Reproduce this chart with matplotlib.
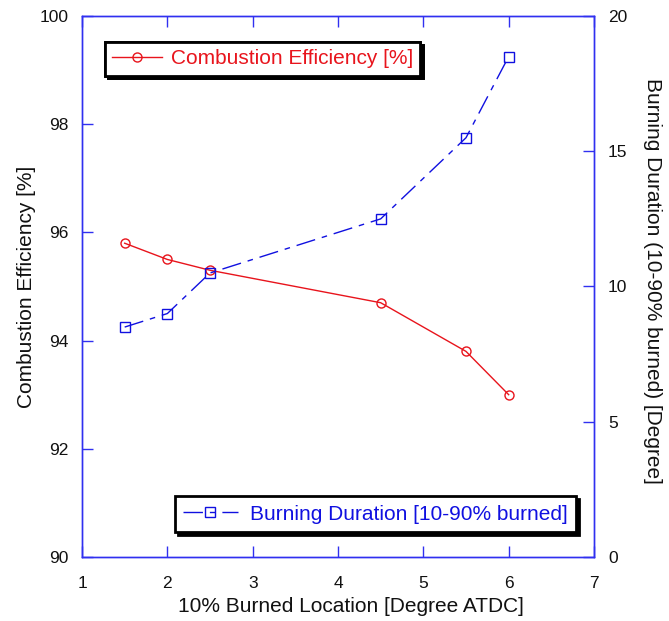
import matplotlib
matplotlib.use("Agg")
import matplotlib.pyplot as plt

plt.rcParams['font.family'] = ['Liberation Sans', 'DejaVu Sans']

# 10% burned location [deg ATDC]
location = [1.5, 2.0, 2.5, 4.5, 5.5, 6.0]
# Combustion efficiency [%]
efficiency = [95.8, 95.5, 95.3, 94.7, 93.8, 93.0]
# Burning duration, 10-90% burned [deg]
duration = [8.5, 9.0, 10.5, 12.5, 15.5, 18.5]

x_ticks = [1, 2, 3, 4, 5, 6, 7]
left_ticks = [90, 92, 94, 96, 98, 100]
right_ticks = [0, 5, 10, 15, 20]

red = '#e8141c'
blue = '#1010e0'
axis_blue = '#3030f0'

fig = plt.figure(figsize=(6.69, 6.21), dpi=100)
ax = fig.add_axes([0.1226, 0.1031, 0.7653, 0.8711])
ax2 = ax.twinx()

l1, = ax.plot(location, efficiency, color=red, lw=1.0, marker='o',
              markersize=6.5, markerfacecolor='none', markeredgecolor=red,
              markeredgewidth=1.0, label='Combustion Efficiency [%]')
l2, = ax2.plot(location, duration, color=blue, lw=1.0, marker='s',
               markersize=7, markerfacecolor='none', markeredgecolor=blue,
               markeredgewidth=1.0, dashes=[14, 5, 4, 5],
               label='Burning Duration [10-90% burned]')

ax.set_xlim(1, 7)
ax.set_ylim(90, 100)
ax2.set_ylim(0, 20)
ax.set_xticks(x_ticks)
ax.set_yticks(left_ticks)
ax2.set_yticks(right_ticks)

for a in (ax, ax2):
    for s in a.spines.values():
        s.set_color(axis_blue)
        s.set_linewidth(1.0)

ax.tick_params(axis='both', direction='in', length=8, width=1.0,
               color=axis_blue, labelsize=12.5, labelcolor='#111111',
               top=True)
ax.tick_params(axis='x', pad=14)
ax.tick_params(axis='y', pad=10)
ax2.tick_params(axis='y', direction='in', length=8, width=1.0,
                color=axis_blue, labelsize=12.5, labelcolor='#111111', pad=10)

ax.set_xlabel('10% Burned Location [Degree ATDC]', fontsize=15, color='#111111',
              labelpad=4, x=0.525, ha='center')
ax.set_ylabel('Combustion Efficiency [%]', fontsize=15, color='#111111',
              labelpad=2)
ax2.set_ylabel('Burning Duration (10-90% burned) [Degree]', fontsize=15,
               color='#111111', rotation=-90, labelpad=25, y=0.51, ha='center')

shadow = {'color': 'black', 'alpha': 1.0}
leg1 = ax.legend(handles=[l1], loc='upper left', bbox_to_anchor=(0.045, 0.952),
                 fontsize=15, frameon=True, fancybox=False, shadow=shadow,
                 handlelength=2.4, borderpad=0.35, borderaxespad=0,
                 handletextpad=0.4, labelcolor=red)
leg1.get_frame().set_edgecolor('black')
leg1.get_frame().set_linewidth(2.0)
ax.add_artist(leg1)

leg2 = ax2.legend(handles=[l2], loc='lower right', bbox_to_anchor=(0.965, 0.046),
                  fontsize=15, frameon=True, fancybox=False, shadow=shadow,
                  handlelength=2.6, borderpad=0.4, borderaxespad=0,
                  handletextpad=0.6, labelcolor=blue)
leg2.get_frame().set_edgecolor('black')
leg2.get_frame().set_linewidth(2.0)

fig.savefig('out.png', dpi=100)
